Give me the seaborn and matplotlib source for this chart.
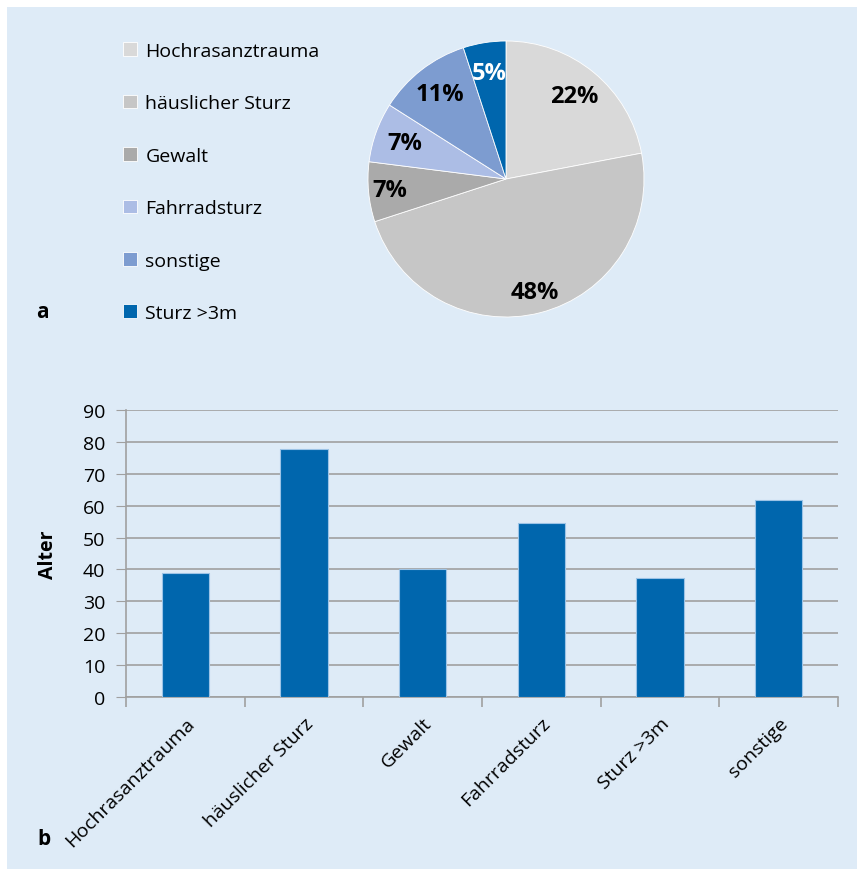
import matplotlib
matplotlib.use("Agg")
import matplotlib.pyplot as plt
import seaborn as sns
import pandas as pd
from matplotlib.patches import Rectangle

# Daten
pie_labels = ["Hochrasanztrauma", "häuslicher Sturz", "Gewalt", "Fahrradsturz", "sonstige", "Sturz >3m"]
pie_values = [22, 48, 7, 7, 11, 5]
pie_colors = ["#d9d9d9", "#c6c6c6", "#aaaaaa", "#acbde5", "#7d9cd0", "#0066ad"]

bar_labels = ["Hochrasanztrauma", "häuslicher Sturz", "Gewalt", "Fahrradsturz", "Sturz >3m", "sonstige"]
bar_values = [39, 77.7, 40.2, 54.5, 37.3, 61.7]

bg = "#deebf7"
font = ["Open Sans", "DejaVu Sans"]
plt.rcParams["font.family"] = font

fig = plt.figure(figsize=(8.57, 8.70), dpi=100, facecolor="white")
fig.patches.append(Rectangle((7 / 857, 0), 1, 862 / 870, transform=fig.transFigure,
                             facecolor=bg, edgecolor="none", zorder=-10))

# Kreisdiagramm
ax1 = fig.add_axes([368 / 857, 1 - 318 / 870, 276 / 857, 276 / 870])
wedges, texts, autotexts = ax1.pie(pie_values, colors=pie_colors, startangle=90, counterclock=False,
                                   autopct="%d%%", pctdistance=0.78,
                                   wedgeprops=dict(edgecolor="white", linewidth=0.6))
# Excel setzt einige Beschriftungen etwas weiter nach außen
label_scale = [1.0, 1.08, 1.08, 1.0, 1.0, 1.0]
for i, t in enumerate(autotexts):
    t.set_fontsize(17)
    t.set_fontweight("bold")
    t.set_color("white" if i == 5 else "black")
    x, y = t.get_position()
    t.set_position((x * label_scale[i], y * label_scale[i]))
ax1.set_xlim(-1, 1)
ax1.set_ylim(-1, 1)
ax1.set_aspect("equal")

fig.legend(wedges, pie_labels, loc="upper left", bbox_to_anchor=(123 / 857, 1 - 43 / 870),
           frameon=False, fontsize=14, handlelength=0.7, handleheight=0.7, handletextpad=0.45,
           labelspacing=1.77, borderpad=0, borderaxespad=0)
fig.text(42 / 857, 1 - 312 / 870, "a", fontsize=15, fontweight="bold", va="center", ha="center")

# Balkendiagramm
df = pd.DataFrame({"Kategorie": bar_labels, "Alter": bar_values})
ax2 = fig.add_axes([126 / 857, 1 - 698 / 870, 712 / 857, 287 / 870])
ax2.set_facecolor("none")
sns.barplot(data=df, x="Kategorie", y="Alter", color="#0066ad", width=0.4, saturation=1,
            edgecolor="#9cc3e6", linewidth=0.8, ax=ax2, zorder=3)
ax2.set_ylim(0, 90)
ax2.set_xlim(-0.5, 5.5)
ax2.set_yticks(range(0, 91, 10))
ax2.grid(axis="y", color="#a0a0a0", linewidth=1.2, zorder=0)
ax2.set_axisbelow(True)
for s in ["top", "right"]:
    ax2.spines[s].set_visible(False)
for s in ["left", "bottom"]:
    ax2.spines[s].set_color("#a0a0a0")
    ax2.spines[s].set_linewidth(1.2)
ax2.tick_params(axis="y", length=7, color="#a0a0a0", labelsize=14, pad=8)
ax2.set_xticks([i - 0.5 for i in range(7)], minor=True)
ax2.tick_params(axis="x", which="minor", length=7, color="#a0a0a0", width=1.2)
ax2.tick_params(axis="x", which="major", length=0, labelsize=14, pad=12)
ax2.set_xticks(range(6))
ax2.set_xticklabels(bar_labels, rotation=45, ha="right", rotation_mode="anchor")
ax2.set_xlabel("")
ax2.set_ylabel("Alter", fontsize=14, fontweight="bold", labelpad=18)
fig.text(44 / 857, 1 - 840 / 870, "b", fontsize=15, fontweight="bold", va="center", ha="center")

fig.savefig("out.png", dpi=100, facecolor="white")
